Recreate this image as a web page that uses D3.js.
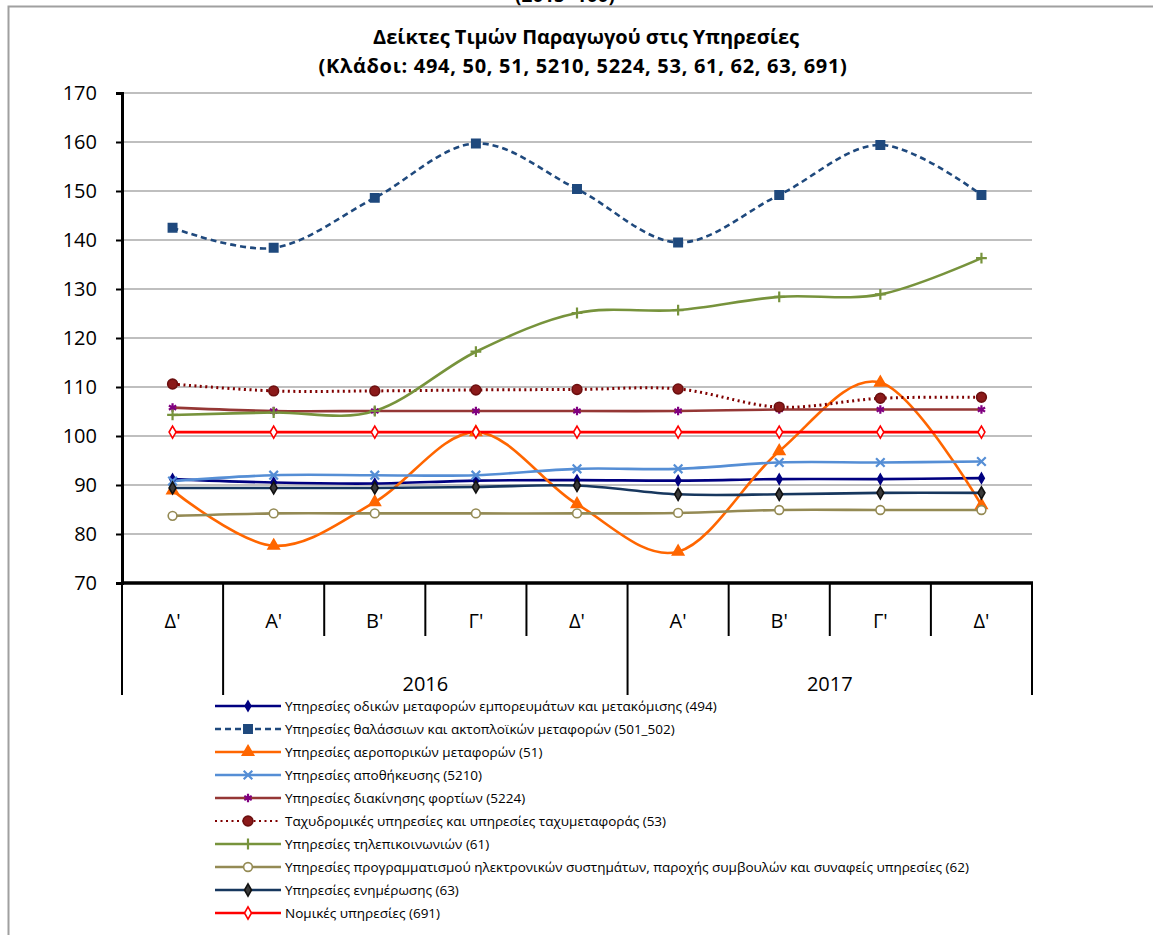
<!DOCTYPE html>
<html>
<head>
<meta charset="utf-8">
<script src="https://cdn.jsdelivr.net/npm/d3@7"></script>
<style>
  body { margin: 0; background: #fff; }
  text { font-family: "Open Sans", sans-serif; }
</style>
</head>
<body>
<div id="chart"></div>
<script>
// quarters and years on the x axis
var quarters = ["Δ'", "Α'", "Β'", "Γ'", "Δ'", "Α'", "Β'", "Γ'", "Δ'"];
var years = [
  { label: "", from: 0, to: 0 },
  { label: "2016", from: 1, to: 4 },
  { label: "2017", from: 5, to: 8 }
];
var yTicks = [70, 80, 90, 100, 110, 120, 130, 140, 150, 160, 170];

// series values
var road494   = [91.2, 90.5, 90.3, 90.9, 91.0, 90.9, 91.2, 91.2, 91.4];
var sea501    = [142.5, 138.4, 148.6, 159.7, 150.4, 139.5, 149.2, 159.4, 149.2];
var air51     = [88.9, 77.6, 86.5, 100.8, 86.1, 76.4, 96.9, 110.9, 85.9];
var storage   = [90.8, 92.0, 92.0, 92.0, 93.3, 93.3, 94.6, 94.6, 94.8];
var cargo5224 = [105.8, 105.1, 105.1, 105.1, 105.1, 105.1, 105.4, 105.4, 105.4];
var postal53  = [110.6, 109.2, 109.2, 109.4, 109.5, 109.6, 105.9, 107.7, 107.9];
var telecom61 = [104.3, 104.8, 105.1, 117.2, 125.1, 125.7, 128.4, 128.9, 136.3];
var prog62    = [83.7, 84.2, 84.2, 84.2, 84.2, 84.3, 84.9, 84.9, 84.9];
var info63    = [89.4, 89.4, 89.4, 89.6, 89.9, 88.1, 88.1, 88.4, 88.4];
var legal691  = [100.8, 100.8, 100.8, 100.8, 100.8, 100.8, 100.8, 100.8, 100.8];

var series = [
  { name: "Υπηρεσίες οδικών μεταφορών εμπορευμάτων και μετακόμισης (494)", values: road494,
    color: "#000080", dash: null, sym: d3.symbolDiamond, size: 28, fill: "#000080", stroke: "#000080" },
  { name: "Υπηρεσίες θαλάσσιων και ακτοπλοϊκών μεταφορών (501_502)", values: sea501,
    color: "#1F497D", dash: "6,4", sym: d3.symbolSquare, size: 70, fill: "#1F497D", stroke: "#1F497D" },
  { name: "Υπηρεσίες αεροπορικών μεταφορών (51)", values: air51,
    color: "#FF6600", dash: null, sym: d3.symbolTriangle, size: 55, fill: "#FF6600", stroke: "#FF6600" },
  { name: "Υπηρεσίες αποθήκευσης (5210)", values: storage,
    color: "#558ED5", dash: null, sym: d3.symbolX, size: 50, fill: "none", stroke: "#558ED5" },
  { name: "Υπηρεσίες διακίνησης φορτίων (5224)", values: cargo5224,
    color: "#953735", dash: null, sym: d3.symbolAsterisk, size: 50, fill: "none", stroke: "#800080" },
  { name: "Ταχυδρομικές υπηρεσίες και υπηρεσίες ταχυμεταφοράς (53)", values: postal53,
    color: "#800000", dash: "2,3.5", sym: d3.symbolCircle, size: 75, fill: "#8B1A1A", stroke: "#6B0F0F" },
  { name: "Υπηρεσίες τηλεπικοινωνιών (61)", values: telecom61,
    color: "#77933C", dash: null, sym: d3.symbolPlus, size: 40, fill: "none", stroke: "#77933C" },
  { name: "Υπηρεσίες προγραμματισμού ηλεκτρονικών συστημάτων, παροχής συμβουλών και συναφείς υπηρεσίες (62)", values: prog62,
    color: "#948A54", dash: null, sym: d3.symbolCircle, size: 60, fill: "#fff", stroke: "#948A54" },
  { name: "Υπηρεσίες ενημέρωσης (63)", values: info63,
    color: "#17375E", dash: null, sym: d3.symbolDiamond, size: 42, fill: "#3a3a3a", stroke: "#111" },
  { name: "Νομικές υπηρεσίες (691)", values: legal691,
    color: "#FF0000", dash: null, sym: d3.symbolDiamond, size: 42, fill: "#fff", stroke: "#FF0000" }
];

var W = 1153, H = 935;
var margin = { left: 122, right: 121, top: 93, bottom: 352 };
var pw = W - margin.left - margin.right;
var ph = H - margin.top - margin.bottom;

var svg = d3.select("#chart").append("svg")
  .attr("width", W).attr("height", H);

// frame of the chart object
svg.append("path")
  .attr("d", "M8.5," + H + " L8.5,6.5 L" + W + ",6.5")
  .attr("fill", "none").attr("stroke", "#a0a0a0").attr("stroke-width", 2);

// caption above the frame, cut by the page edge as in the source
svg.append("text")
  .attr("x", 565).attr("y", 2)
  .attr("text-anchor", "middle")
  .style("font-size", "19px").style("font-weight", "bold")
  .text("(2015=100)");

svg.append("text").attr("x", 586).attr("y", 44)
  .attr("text-anchor", "middle")
  .style("font-size", "20px").style("font-weight", "bold")
  .text("Δείκτες Τιμών Παραγωγού στις Υπηρεσίες");
svg.append("text").attr("x", 583).attr("y", 73)
  .attr("text-anchor", "middle")
  .style("font-size", "20px").style("font-weight", "bold")
  .style("letter-spacing", "0.7px")
  .text("(Κλάδοι: 494, 50, 51, 5210, 5224, 53, 61, 62, 63, 691)");

var g = svg.append("g")
  .attr("transform", "translate(" + margin.left + "," + margin.top + ")");

var x = d3.scaleBand().domain(d3.range(quarters.length)).range([0, pw]);
var y = d3.scaleLinear().domain([70, 170]).range([ph, 0]);
var cx = function (i) { return x(i) + x.bandwidth() / 2; };

// gridlines
g.append("g").selectAll("line")
  .data(yTicks.slice(1))
  .enter().append("line")
  .attr("x1", 0).attr("x2", pw)
  .attr("y1", function (d) { return y(d); })
  .attr("y2", function (d) { return y(d); })
  .attr("stroke", "#808080").attr("stroke-width", 1.2);

// y axis
var yAxis = g.append("g")
  .call(d3.axisLeft(y).tickValues(yTicks).tickSize(6).tickPadding(19));
yAxis.select(".domain").attr("stroke", "#000").attr("stroke-width", 3);
yAxis.selectAll(".tick line").attr("stroke", "#000").attr("stroke-width", 2);
yAxis.selectAll(".tick text")
  .style("font-size", "20px").style("font-family", "'Open Sans', sans-serif")
  .attr("fill", "#000");

// category axis with two levels
var xa = g.append("g").attr("transform", "translate(0," + ph + ")");
var bounds = d3.range(quarters.length + 1).map(function (i) {
  return i < quarters.length ? x(i) : pw;
});
var groupEdges = [0, x(1), x(5), pw];
xa.selectAll(".sep").data(bounds).enter().append("line")
  .attr("x1", function (d) { return d; }).attr("x2", function (d) { return d; })
  .attr("y1", 0)
  .attr("y2", function (d) { return groupEdges.some(function (e) { return Math.abs(e - d) < 0.5; }) ? 112 : 53; })
  .attr("stroke", "#000").attr("stroke-width", 2);
xa.append("line").attr("x1", -1).attr("x2", pw + 1).attr("y1", 0).attr("y2", 0)
  .attr("stroke", "#000").attr("stroke-width", 3.5);
xa.selectAll(".q").data(quarters).enter().append("text")
  .attr("x", function (d, i) { return cx(i); })
  .attr("y", 45)
  .attr("text-anchor", "middle")
  .style("font-size", "20px")
  .text(function (d) { return d; });
xa.selectAll(".yr").data(years).enter().append("text")
  .attr("x", function (d) { return (x(d.from) + x(d.to) + x.bandwidth()) / 2; })
  .attr("y", 108)
  .attr("text-anchor", "middle")
  .style("font-size", "20px")
  .text(function (d) { return d.label; });

// lines
var line = d3.line()
  .x(function (d, i) { return cx(i); })
  .y(function (d) { return y(d); })
  .curve(d3.curveCatmullRom.alpha(0));

series.forEach(function (s) {
  g.append("path")
    .datum(s.values)
    .attr("d", line)
    .attr("fill", "none")
    .attr("stroke", s.color)
    .attr("stroke-width", s.dash === "2,3.5" ? 3 : 2.6)
    .attr("stroke-dasharray", s.dash);
});

series.forEach(function (s) {
  g.append("g").selectAll("path")
    .data(s.values)
    .enter().append("path")
    .attr("transform", function (d, i) { return "translate(" + cx(i) + "," + y(d) + ")"; })
    .attr("d", d3.symbol().type(s.sym).size(s.size))
    .attr("fill", s.fill)
    .attr("stroke", s.stroke)
    .attr("stroke-width", s.fill === "none" ? 2.2 : 1.6);
});

// legend
var lg = svg.append("g").attr("transform", "translate(215,706)");
var rows = lg.selectAll("g").data(series).enter().append("g")
  .attr("transform", function (d, i) { return "translate(0," + (i * 23) + ")"; });
rows.append("line")
  .attr("x1", 0).attr("x2", 66).attr("y1", 0).attr("y2", 0)
  .attr("stroke", function (d) { return d.color; })
  .attr("stroke-width", function (d) { return d.dash === "2,3.5" ? 2.2 : 2.6; })
  .attr("stroke-dasharray", function (d) { return d.dash; });
rows.append("path")
  .attr("transform", "translate(33,0)")
  .attr("d", function (d) { return d3.symbol().type(d.sym).size(d.size)(); })
  .attr("fill", function (d) { return d.fill; })
  .attr("stroke", function (d) { return d.stroke; })
  .attr("stroke-width", function (d) { return d.fill === "none" ? 2.2 : 1.6; });
rows.append("text")
  .attr("x", 70).attr("y", 4.5)
  .style("font-size", "13.5px")
  .text(function (d) { return d.name; });
</script>
</body>
</html>
